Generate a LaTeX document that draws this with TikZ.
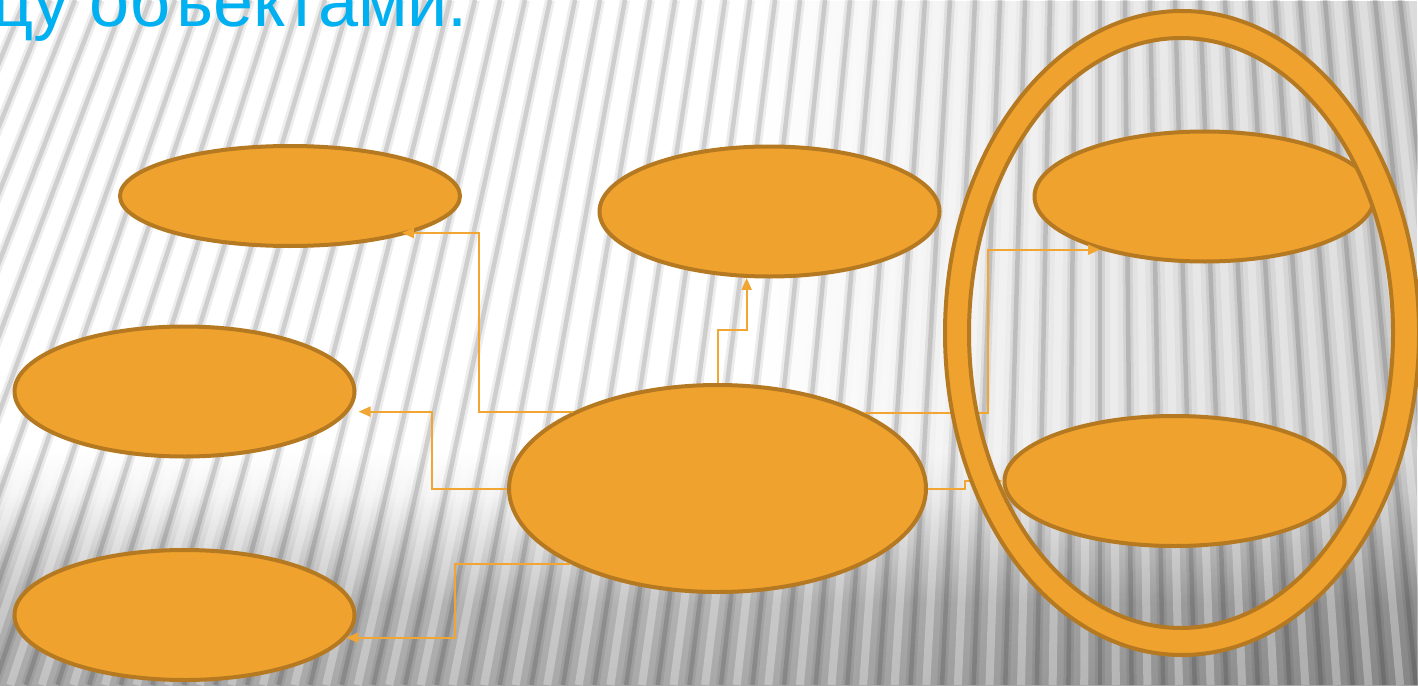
\documentclass[tikz,border=0pt]{standalone}
\usepackage{fontspec}
\setmainfont{Liberation Sans}
\usetikzlibrary{arrows.meta,shapes.geometric,fadings}
\definecolor{ofill}{RGB}{239,163,46}
\definecolor{oborder}{RGB}{181,121,34}
\definecolor{oconn}{RGB}{241,166,52}
\definecolor{ttl}{RGB}{0,176,240}
\pgfdeclareverticalshading{bgshade}{100bp}{color(0bp)=(black!34); color(25bp)=(black!34); color(31bp)=(black!30); color(35bp)=(black!18); color(39bp)=(black!5); color(42bp)=(white); color(100bp)=(white)}
\tikzset{
  oval/.style={ellipse, draw=oborder, fill=ofill, line width=4pt, inner sep=0pt,
    minimum width=340pt, minimum height=130pt},
  bigoval/.style={oval, minimum width=417pt, minimum height=207pt},
  flatoval/.style={oval, minimum height=100pt},
  conn/.style={draw=oconn, line width=2pt, -{Triangle[length=12pt,width=10pt]}},
  ring/.style={draw=oborder, fill=ofill, line width=4pt, even odd rule},
  title/.style={text=ttl, inner sep=0pt, font=\fontsize{72}{80}\selectfont}
}
\begin{document}
\begin{tikzpicture}[x=1pt,y=-1pt]
\useasboundingbox (0,0) rectangle (1418,685);
% background
\shade[shading=bgshade] (0,0) rectangle (1418,685);
\fill[black, opacity=0.2, path fading=west] (760,0) rectangle (1418,685);
\begin{scope}
\clip (0,0) rectangle (1418,685);
\foreach \i in {-16,...,62} {
  \pgfmathsetmacro{\xt}{\i*25}
  \pgfmathsetmacro{\xb}{\xt+(\xt-1100)*0.2635}
  \pgfmathsetmacro{\xtw}{\xt+12.5}
  \pgfmathsetmacro{\xbw}{\xtw+(\xtw-1100)*0.2635}
  \draw[white, line width=8pt, opacity=0.3] (\xtw,0) -- (\xbw,685);
  \draw[black, line width=10pt, opacity=0.07] (\xt,0) -- (\xb,685);
  \draw[black, line width=4.5pt, opacity=0.13] (\xt,0) -- (\xb,685);
}
\end{scope}
% title
\node[title, anchor=base east] (t) at (468,27) {цу объектами.};
% ellipses
\node[flatoval] (A) at (290,196) {};
\node[oval] (B) at (184.5,391.5) {};
\node[oval] (C) at (184.5,615) {};
\node[oval] (D) at (769.5,211.5) {};
\node[bigoval] (E) at (717.5,488.5) {};
\node[oval] (F) at (1204.5,196.5) {};
\node[oval] (G) at (1174.5,481) {};
% connectors
\draw[conn, shorten >=-9pt] (E.152.6) -- ++(-94.6,0) |- (A.-17.9);
\draw[conn, shorten >=10pt] (E.west) -- ++(-75.5,0) |- (B.-7.5);
\draw[conn] (E.-153.3) -- ++(-114.5,0) |- (C.-8.1);
\draw[conn] (E.north) -- ++(0,-53) -| (D.-109.5);
\draw[conn] (E.27.4) -- ++(122.6,0) |- (F.-153.8);
\draw[conn] (E.east) -- ++(37,0) |- (G.west);
% ring
\draw[ring] (1182,333) ellipse [x radius=237, y radius=322]
            (1181,333) ellipse [x radius=212, y radius=295];
\end{tikzpicture}
\end{document}
